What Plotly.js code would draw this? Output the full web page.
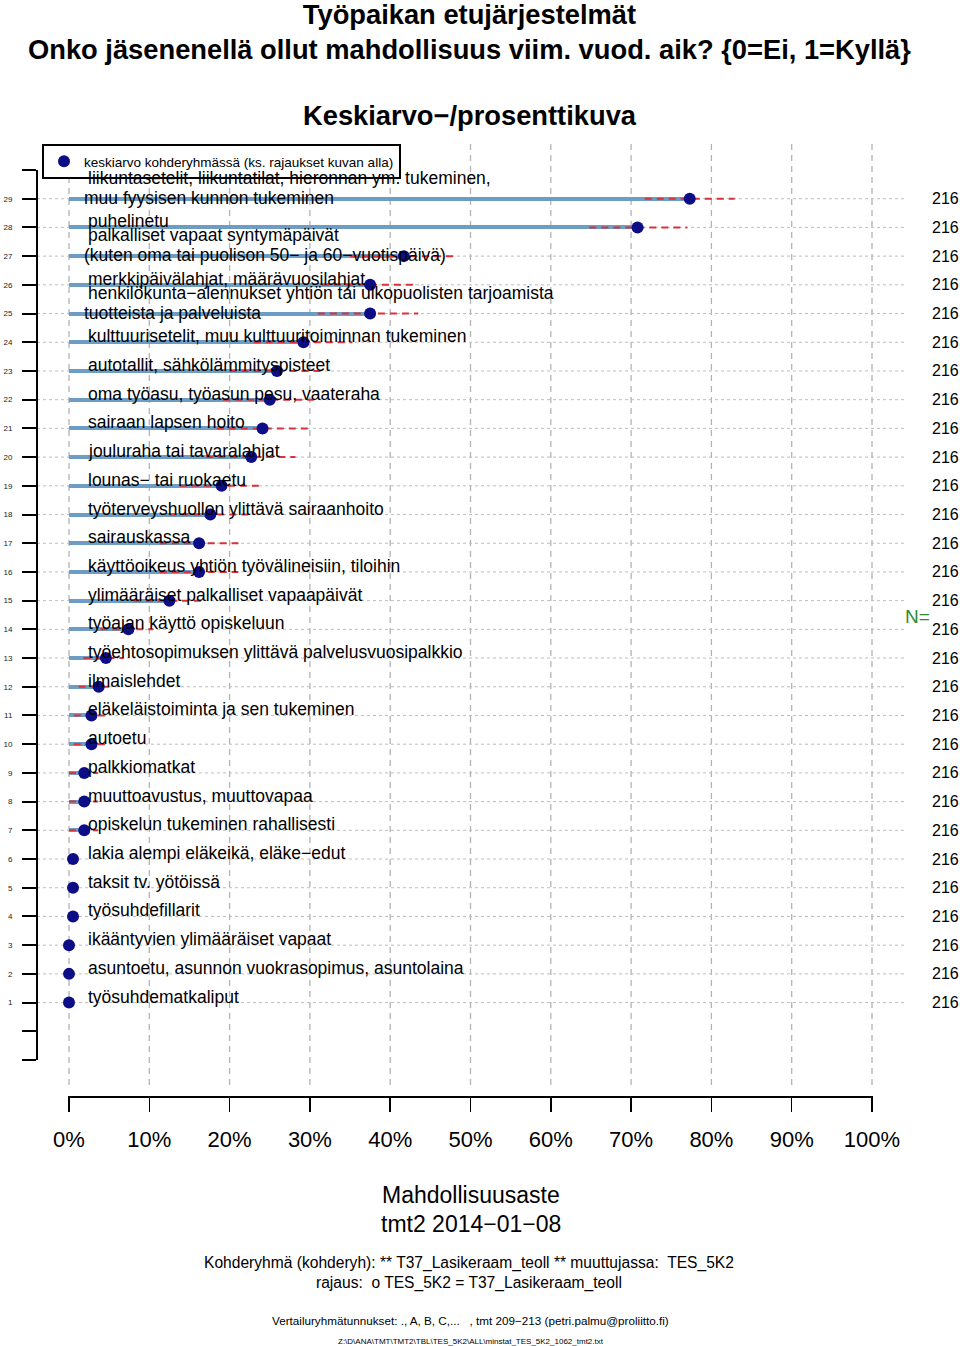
<!DOCTYPE html>
<html>
<head>
<meta charset="utf-8">
<script src="https://cdn.plot.ly/plotly-3.0.1.min.js"></script>
<style>html,body{margin:0;padding:0;background:#fff;}#chart{width:960px;height:1346px;}</style>
</head>
<body>
<div id="chart"></div>
<script>
// ---- data (row 1 = bottom, row 29 = top) ----
const labels = [
  "työsuhdematkaliput",
  "asuntoetu, asunnon vuokrasopimus, asuntolaina",
  "ikääntyvien ylimääräiset vapaat",
  "työsuhdefillarit",
  "taksit tv. yötöissä",
  "lakia alempi eläkeikä, eläke−edut",
  "opiskelun tukeminen rahallisesti",
  "muuttoavustus, muuttovapaa",
  "palkkiomatkat",
  "autoetu",
  "eläkeläistoiminta ja sen tukeminen",
  "ilmaislehdet",
  "työehtosopimuksen ylittävä palvelusvuosipalkkio",
  "työajan käyttö opiskeluun",
  "ylimääräiset palkalliset vapaapäivät",
  "käyttöoikeus yhtiön työvälineisiin, tiloihin",
  "sairauskassa",
  "työterveyshuollon ylittävä sairaanhoito",
  "lounas− tai ruokaetu",
  "jouluraha tai tavaralahjat",
  "sairaan lapsen hoito",
  "oma työasu, työasun pesu, vaateraha",
  "autotallit, sähkölämmityspisteet",
  "kulttuurisetelit, muu kulttuuritoiminnan tukeminen",
  "henkilökunta−alennukset yhtiön tai ulkopuolisten tarjoamista\ntuotteista ja palveluista",
  "merkkipäivälahjat, määrävuosilahjat",
  "palkalliset vapaat syntymäpäivät\n(kuten oma tai puolison 50− ja 60−vuotispäivä)",
  "puhelinetu",
  "liikuntasetelit, liikuntatilat, hieronnan ym. tukeminen,\nmuu fyysisen kunnon tukeminen"
];
const meanPct = [0, 0, 0, 0.5, 0.5, 0.5, 1.9, 1.9, 1.9, 2.8, 2.8, 3.7, 4.6, 7.4, 12.5, 16.2, 16.2, 17.6, 19.0, 22.7, 24.1, 25.0, 25.9, 29.2, 37.5, 37.5, 41.7, 70.8, 77.3];
const ciLow  = [0, 0, 0, 0, 0, 0, 0, 0, 0, 0.6, 0.6, 1.2, 1.8, 3.9, 8.1, 11.3, 11.3, 12.5, 13.8, 17.1, 18.4, 19.2, 20.0, 23.0, 31.0, 31.5, 35.0, 64.8, 71.7];
const ciHigh = [0, 0, 0, 1.4, 1.4, 1.4, 3.6, 3.6, 3.6, 5.0, 5.0, 5.0, 6.8, 10.5, 16.5, 21.1, 21.1, 22.6, 24.2, 28.2, 29.8, 30.5, 31.8, 35.3, 43.5, 43.5, 48.3, 77.0, 82.9];
const nArr = [216,216,216,216,216,216,216,216,216,216,216,216,216,216,216,216,216,216,216,216,216,216,216,216,216,216,216,216,216];
const xTickVals = [0,10,20,30,40,50,60,70,80,90,100];
const xTickText = ["0%","10%","20%","30%","40%","50%","60%","70%","80%","90%","100%"];
const legendName = "keskiarvo kohderyhmässä (ks. rajaukset kuvan alla)";

// ---- geometry helpers ----
const FONT = "Liberation Sans, Arial, Helvetica, sans-serif";
const W = 960, H = 1346, MT = 100, MB = 249;
const paperBottomPx = H - MB, paperH = H - MT - MB;
const py = px => (paperBottomPx - px) / paperH;
const pxr = px => px / W;

const rows = labels.map((_, i) => i + 1);

// ---- traces ----
const barTrace = {
  type: 'bar', orientation: 'h', x: meanPct, y: rows, width: 0.14,
  marker: {color: '#6d9dc5', line: {width: 0}}, showlegend: false, hoverinfo: 'skip'
};
const ciX = [], ciY = [];
rows.forEach((r, i) => { if (ciHigh[i] > ciLow[i]) { ciX.push(ciLow[i], ciHigh[i], null); ciY.push(r, r, null); } });
const ciTrace = {
  type: 'scatter', mode: 'lines', x: ciX, y: ciY, connectgaps: false,
  line: {color: '#d9323a', width: 2, dash: '7px,5px'}, showlegend: false, hoverinfo: 'skip', cliponaxis: false
};
const dotTrace = {
  type: 'scatter', mode: 'markers', x: meanPct, y: rows, name: legendName,
  marker: {color: '#0d0d86', size: 12, line: {width: 0}}, cliponaxis: false, showlegend: true
};

// ---- shapes (grid) ----
const shapes = [];
xTickVals.forEach(v => shapes.push({type: 'line', layer: 'below', xref: 'x', yref: 'paper', x0: v, x1: v, y0: py(1085), y1: py(140),
  line: {color: '#b3b3b3', width: 1.3, dash: '6px,5px'}}));
rows.forEach(r => shapes.push({type: 'line', layer: 'below', xref: 'paper', yref: 'y', x0: pxr(37), x1: pxr(905), y0: r, y1: r,
  line: {color: '#bdbdbd', width: 1, dash: 'dot'}}));

// ---- annotations ----
const ann = [];
labels.forEach((lab, i) => {
  const lines = lab.split('\n');
  lines.forEach((ln, j) => {
    let ys, xs;
    if (lines.length === 1) { ys = 6; xs = 17; }
    else { ys = (j === 0) ? 21 : 1; xs = (j === 0) ? 17 : 13; }
    ann.push({xref: 'x', yref: 'y', x: 0, y: rows[i], xanchor: 'left', yanchor: 'middle', xshift: xs, yshift: ys,
      text: ln, showarrow: false, font: {family: FONT, size: 17.5, color: '#000'}});
  });
  ann.push({xref: 'paper', yref: 'y', x: pxr(945), y: rows[i], xanchor: 'center', yanchor: 'middle',
    text: String(nArr[i]), showarrow: false, font: {family: FONT, size: 16, color: '#000'}});
});
function txt(text, cx, cy, size, opts) {
  ann.push(Object.assign({xref: 'paper', yref: 'paper', x: pxr(cx), y: py(cy), xanchor: 'center', yanchor: 'middle',
    text: text, showarrow: false, font: {family: FONT, size: size, color: '#000'}}, opts || {}));
}
txt("Keskiarvo−/prosenttikuva", 470, 115, 27.3, {font: {family: FONT, size: 27.3, color: '#000', weight: 'bold'}});
txt("N=", 917, 616, 19, {font: {family: FONT, size: 19, color: '#2f8a2f'}});
txt("Mahdollisuusaste", 471, 1195, 23);
txt("tmt2 2014−01−08", 471, 1224, 23);
txt("Kohderyhmä (kohderyh): ** T37_Lasikeraam_teoll ** muuttujassa:\u00a0 TES_5K2", 469, 1263, 15.6);
txt("rajaus:\u00a0 o TES_5K2 = T37_Lasikeraam_teoll", 469, 1283, 15.6);
txt("Vertailuryhmätunnukset: ., A, B, C,...\u00a0\u00a0 , tmt 209−213 (petri.palmu@proliitto.fi)", 470, 1320, 11.7);
txt("Z:\\D\\ANA\\TMT\\TMT2\\TBL\\TES_5K2\\ALL\\minstat_TES_5K2_1062_tmt2.txt", 471, 1341, 8);

// ---- y ticks ----
const yTickVals = [-1, 0].concat(rows).concat([30]);
const yTickText = yTickVals.map(v => (v >= 1 && v <= 29) ? String(v) : '');

const layout = {
  width: W, height: H, paper_bgcolor: '#fff', plot_bgcolor: 'rgba(0,0,0,0)',
  margin: {l: 0, r: 0, t: MT, b: MB, pad: 0},
  font: {family: FONT, color: '#000'},
  title: {text: "Työpaikan etujärjestelmät<br>Onko jäsenenellä ollut mahdollisuus viim. vuod. aik? {0=Ei, 1=Kyllä}",
    font: {family: FONT, size: 27.3, color: '#000', weight: 'bold'}, x: 0.489, xanchor: 'center',
    yref: 'container', y: 1 - 23.5 / H, yanchor: 'middle'},
  xaxis: {domain: [68 / W, 873 / W], range: [-0.1245, 100.1245], anchor: 'free', position: 0,
    showline: true, linecolor: '#000', linewidth: 2, ticks: 'outside', ticklen: 14, tickwidth: 1.5, tickcolor: '#000',
    tickvals: xTickVals, ticktext: xTickText, tickfont: {family: FONT, size: 22, color: '#000'},
    ticklabelstandoff: 9, showgrid: false, zeroline: false, fixedrange: true},
  yaxis: {domain: [py(1060), py(170)], range: [-1, 30], anchor: 'free', position: pxr(37),
    showline: true, linecolor: '#000', linewidth: 2, ticks: 'outside', ticklen: 14, tickwidth: 2, tickcolor: '#000',
    tickvals: yTickVals, ticktext: yTickText, tickfont: {family: FONT, size: 8, color: '#222'},
    ticklabelstandoff: 8, showgrid: false, zeroline: false, fixedrange: true},
  showlegend: true,
  legend: {x: pxr(42), y: py(144), xanchor: 'left', yanchor: 'top', bgcolor: '#fff', bordercolor: '#000', borderwidth: 2,
    font: {family: FONT, size: 13.5, color: '#000'}, itemwidth: 30},
  shapes: shapes, annotations: ann, bargap: 0
};

Plotly.newPlot('chart', [barTrace, ciTrace, dotTrace], layout, {staticPlot: true, displayModeBar: false});
</script>
</body>
</html>
